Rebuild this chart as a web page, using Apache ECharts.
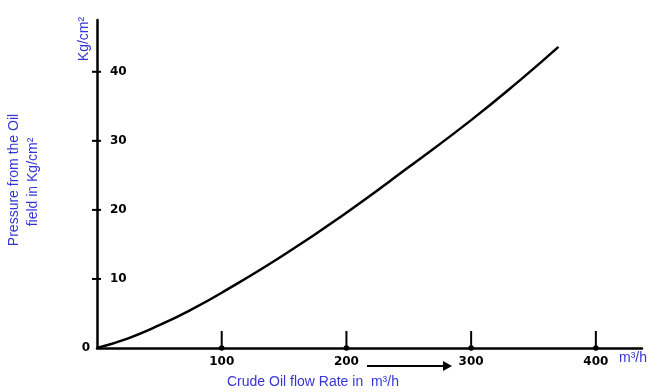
<!DOCTYPE html>
<html><head><meta charset="utf-8">
<script src="https://cdn.jsdelivr.net/npm/echarts@6/dist/echarts.min.js"></script>
<style>html,body{margin:0;padding:0;background:#fff}#c{width:661px;height:392px}</style>
</head><body><div id="c"></div>
<script>
// Crude oil flow rate (m3/h) and pressure (Kg/cm2)
const flowRate = [0, 25, 50, 75, 100, 150, 200, 250, 300, 340, 370];
const pressure = [0, 1.4, 3.3, 5.5, 8.0, 13.5, 19.6, 26.2, 33.0, 38.9, 43.6];
const xTicks = [100, 200, 300, 400];
const yTicks = [10, 20, 30, 40];

const blue = '#3535d6';
const chart = echarts.init(document.getElementById('c'));
const textFont = '"Liberation Sans", Arial, sans-serif';
const numFont = '"DejaVu Sans", sans-serif';

chart.setOption({
  animation: false,
  backgroundColor: '#fff',
  grid: { left: 97, right: 19, top: 20, bottom: 44 },
  xAxis: {
    type: 'value', min: 0, max: 437, interval: 100,
    axisLine: { lineStyle: { color: '#000', width: 2.5 } },
    axisTick: { show: false },
    splitLine: { show: false },
    axisLabel: {
      margin: 8, color: '#000', fontWeight: 'bold', fontSize: 12, fontFamily: numFont,
      formatter: v => (v > 0 && v % 100 === 0) ? String(v) : ''
    }
  },
  yAxis: [{
    type: 'value', min: 0, max: 47.5, interval: 10,
    axisLine: { show: true, lineStyle: { color: '#000', width: 2.5 } },
    axisTick: { show: false },
    splitLine: { show: false },
    axisLabel: {
      inside: true, margin: 13, color: '#000', fontWeight: 'bold', fontSize: 12, fontFamily: numFont,
      formatter: v => (v > 0 && v % 10 === 0) ? String(v) : ''
    }
  }, {
    type: 'value', min: 0, max: 47.5, interval: 10, position: 'left',
    axisLine: { show: false }, axisTick: { show: false }, splitLine: { show: false },
    axisLabel: {
      margin: 7, color: '#000', fontWeight: 'bold', fontSize: 12, fontFamily: numFont,
      formatter: v => v === 0 ? '0' : ''
    }
  }],
  series: [{
    type: 'line',
    data: flowRate.map((x, i) => [x, pressure[i]]),
    smooth: true, showSymbol: false,
    lineStyle: { color: '#000', width: 2.5 }
  }, {
    type: 'custom',
    data: xTicks.map(v => [v, 0]),
    renderItem: (params, api) => {
      const p = api.coord([api.value(0), 0]);
      return { type: 'group', children: [
        { type: 'line', shape: { x1: p[0], y1: p[1], x2: p[0], y2: p[1] - 17 }, style: { stroke: '#000', lineWidth: 2 } },
        { type: 'circle', shape: { cx: p[0], cy: p[1], r: 2.8 }, style: { fill: '#000' } }
      ]};
    },
    z: 5
  }, {
    type: 'custom',
    data: yTicks.map(v => [0, v]),
    renderItem: (params, api) => {
      const p = api.coord([0, api.value(1)]);
      return { type: 'line', shape: { x1: p[0] - 5, y1: p[1], x2: p[0] + 4, y2: p[1] }, style: { stroke: '#000', lineWidth: 2 } };
    },
    z: 5
  }],
  graphic: [
    { type: 'text', x: 14, y: 180, rotation: Math.PI / 2,
      style: { text: 'Pressure from the Oil', fill: blue, font: '14px ' + textFont, align: 'center', verticalAlign: 'middle' } },
    { type: 'text', x: 33, y: 182, rotation: Math.PI / 2,
      style: { text: 'field in Kg/cm²', fill: blue, font: '14px ' + textFont, align: 'center', verticalAlign: 'middle' } },
    { type: 'text', x: 84, y: 39, rotation: Math.PI / 2,
      style: { text: 'Kg/cm²', fill: blue, font: '14px ' + textFont, align: 'center', verticalAlign: 'middle' } },
    { type: 'text', x: 227, y: 382,
      style: { text: 'Crude Oil flow Rate in  m³/h', fill: blue, font: '14px ' + textFont, align: 'left', verticalAlign: 'middle' } },
    { type: 'text', x: 619, y: 358,
      style: { text: 'm³/h', fill: blue, font: '14px ' + textFont, align: 'left', verticalAlign: 'middle' } },
    { type: 'line', shape: { x1: 367, y1: 366, x2: 445, y2: 366 }, style: { stroke: '#000', lineWidth: 2 } },
    { type: 'polygon', shape: { points: [[443, 361], [452, 366], [443, 371]] }, style: { fill: '#000' } }
  ]
});
</script></body></html>
